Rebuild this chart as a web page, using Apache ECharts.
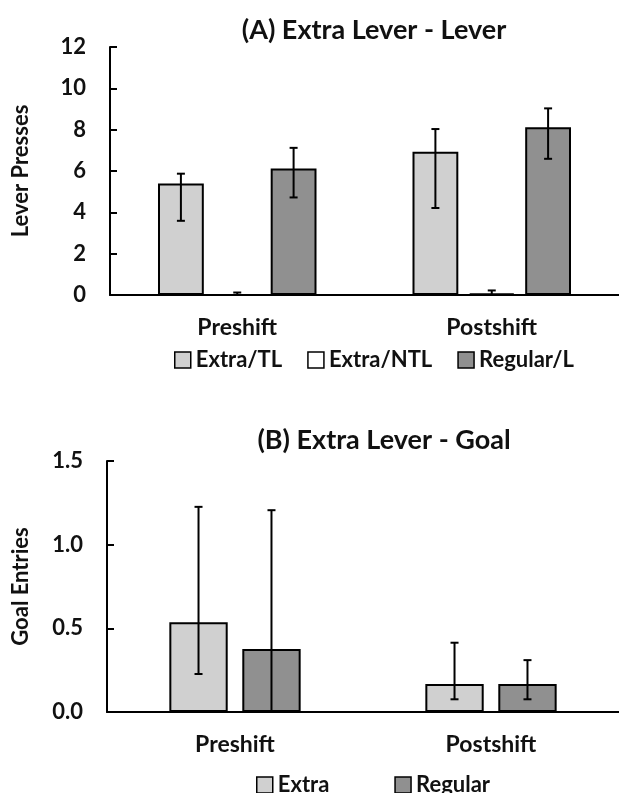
<!DOCTYPE html>
<html>
<head>
<meta charset="utf-8">
<script src="https://cdn.jsdelivr.net/npm/echarts@6/dist/echarts.min.js"></script>
<style>
  html, body { margin: 0; padding: 0; background: #fff; }
  #chart { width: 619px; height: 793px; }
</style>
</head>
<body>
<div id="chart"></div>
<script>
// Panel A: lever presses
const phases = ['Preshift', 'Postshift'];
const leverNames = ['Extra/TL', 'Extra/NTL', 'Regular/L'];
const leverExtraTL = [5.40, 6.93];
const leverExtraNTL = [0.0, 0.08];
const leverRegular = [6.12, 8.12];
const leverExtraTLLow = [3.59, 4.21];
const leverExtraTLHigh = [5.87, 8.03];
const leverExtraNTLLow = [0.0, 0.0];
const leverExtraNTLHigh = [0.12, 0.22];
const leverRegularLow = [4.72, 6.59];
const leverRegularHigh = [7.12, 9.03];

// Panel B: goal entries
const goalNames = ['Extra', 'Regular'];
const goalExtra = [0.537, 0.167];
const goalRegular = [0.376, 0.167];
const goalExtraLow = [0.227, 0.076];
const goalExtraHigh = [1.226, 0.414];
const goalRegularLow = [0.0, 0.076];
const goalRegularHigh = [1.206, 0.31];

const ink = '#111';
const font = 'Lato';
const barColors = { light: '#d0d0d0', white: '#ffffff', dark: '#909090' };

const myChart = echarts.init(document.getElementById('chart'));

// error bar rows: [category, low, high, slot]
function errRows(lows, highs) {
    const rows = [];
    lows.forEach((lo, s) => {
        lo.forEach((v, c) => rows.push([c, v, highs[s][c], s]));
    });
    return rows;
}

function errorBars(nBars, widthPct, gapPct) {
    return function (params, api) {
        const band = api.size([1, 0])[0];
        const w = band * widthPct;
        const off = (api.value(3) - (nBars - 1) / 2) * w * (1 + gapPct);
        const lo = api.coord([api.value(0), api.value(1)]);
        const hi = api.coord([api.value(0), api.value(2)]);
        const x = lo[0] + off;
        const cap = 4;
        const style = { stroke: '#000', lineWidth: 2 };
        return {
            type: 'group',
            children: [
                { type: 'line', shape: { x1: x, y1: lo[1], x2: x, y2: hi[1] }, style },
                { type: 'line', shape: { x1: x - cap, y1: hi[1], x2: x + cap, y2: hi[1] }, style },
                { type: 'line', shape: { x1: x - cap, y1: lo[1], x2: x + cap, y2: lo[1] }, style }
            ]
        };
    };
}

function txt(size) {
    return { color: ink, fontFamily: font, fontWeight: 'bold', fontSize: size };
}

function valueAxis(gridIndex, max, interval, name, nameGap, fmt) {
    return {
        type: 'value', gridIndex, min: 0, max, interval,
        name, nameLocation: 'middle', nameGap,
        nameTextStyle: txt(22),
        axisLine: { show: true, lineStyle: { color: '#000', width: 2 } },
        axisTick: { show: true, inside: true, length: 7, lineStyle: { color: '#000', width: 2 } },
        axisLabel: Object.assign({ margin: 24, formatter: fmt }, txt(22)),
        splitLine: { show: false }
    };
}

function catAxis(gridIndex) {
    return {
        type: 'category', gridIndex, data: phases,
        axisLine: { lineStyle: { color: '#000', width: 2 } },
        axisTick: { show: false },
        axisLabel: Object.assign({ margin: 21 }, txt(23))
    };
}

function bar(name, data, color, xi, width, gap) {
    return {
        name, type: 'bar', xAxisIndex: xi, yAxisIndex: xi, data,
        barWidth: width, barGap: gap,
        itemStyle: { color, borderColor: '#000', borderWidth: 2 }
    };
}

const legendBase = {
    icon: 'rect', itemWidth: 16, itemHeight: 16,
    textStyle: txt(22),
    itemStyle: { borderColor: '#000', borderWidth: 1.5 }
};

const option = {
    backgroundColor: '#fff',
    animation: false,
    title: [
        { text: '(A) Extra Lever - Lever', left: 369, top: 12, textAlign: 'center', textStyle: txt(27) },
        { text: '(B) Extra Lever - Goal', left: 379, top: 422, textAlign: 'center', textStyle: txt(27) }
    ],
    legend: [
        Object.assign({ data: leverNames, left: 169, top: 344, itemGap: 25 }, legendBase),
        Object.assign({ data: goalNames, left: 251, top: 769, itemGap: 65 }, legendBase)
    ],
    grid: [
        { left: 110, right: -11, top: 47, bottom: 498 },
        { left: 107, right: -15, top: 461, bottom: 81 }
    ],
    xAxis: [catAxis(0), catAxis(1)],
    yAxis: [
        valueAxis(0, 12, 2, 'Lever Presses', 78, v => v),
        valueAxis(1, 1.5, 0.5, 'Goal Entries', 75, v => v.toFixed(1))
    ],
    series: [
        bar('Extra/TL', leverExtraTL, barColors.light, 0, '18%', '23%'),
        bar('Extra/NTL', leverExtraNTL, barColors.white, 0, '18%', '23%'),
        bar('Regular/L', leverRegular, barColors.dark, 0, '18%', '23%'),
        {
            type: 'custom', xAxisIndex: 0, yAxisIndex: 0, z: 5,
            renderItem: errorBars(3, 0.18, 0.23),
            data: errRows([leverExtraTLLow, leverExtraNTLLow, leverRegularLow],
                          [leverExtraTLHigh, leverExtraNTLHigh, leverRegularHigh])
        },
        bar('Extra', goalExtra, barColors.light, 1, '22.8%', '25%'),
        bar('Regular', goalRegular, barColors.dark, 1, '22.8%', '25%'),
        {
            type: 'custom', xAxisIndex: 1, yAxisIndex: 1, z: 5,
            renderItem: errorBars(2, 0.228, 0.25),
            data: errRows([goalExtraLow, goalRegularLow], [goalExtraHigh, goalRegularHigh])
        }
    ]
};

myChart.setOption(option);
window.addEventListener('resize', () => myChart.resize());
</script>
</body>
</html>
